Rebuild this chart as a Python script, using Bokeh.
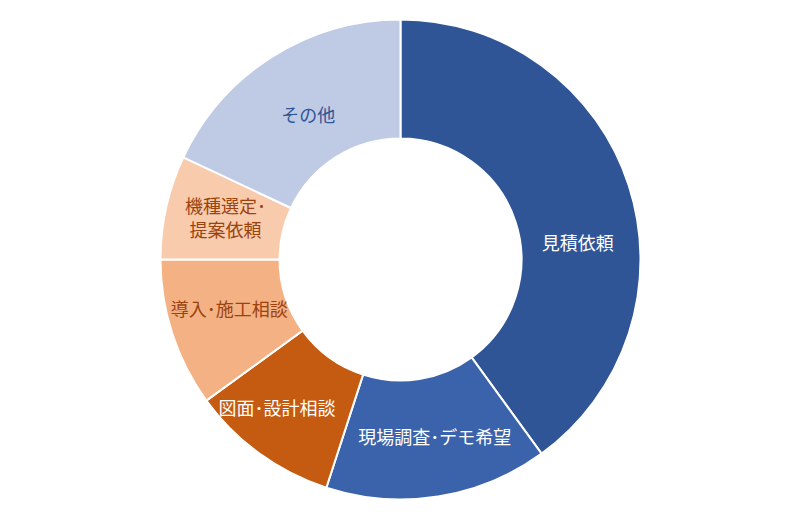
import numpy as np

from bokeh.core.properties import value
from bokeh.embed import file_html
from bokeh.models import ColumnDataSource
from bokeh.plotting import figure
from bokeh.resources import INLINE

# share of inquiries, clockwise from 12 o'clock
labels = ["見積依頼", "現場調査･デモ希望", "図面･設計相談", "導入･施工相談", "機種選定･\n提案依頼", "その他"]
shares = [40, 15, 10, 10, 7, 18]

colors = ["#2F5597", "#3A63AC", "#C55A11", "#F4B183", "#F8CBAD", "#BFCAE5"]
text_colors = ["white", "white", "white", "#9A4310", "#9A4310", "#2F5597"]

W, H = 784, 502
cx, cy = 400, 243
r_out, r_in = 240, 121

frac = np.array(shares) / sum(shares)
ends = np.cumsum(frac) * 2 * np.pi
starts = ends - frac * 2 * np.pi
# bokeh angles run counter-clockwise from 3 o'clock
start_angle = np.pi / 2 - starts
end_angle = np.pi / 2 - ends

mid = (starts + ends) / 2
# small nudges so the labels sit where the original placed them
mid = mid + np.radians([12.5, -2, 4, 2.3, 1, 0])
lab_r = np.array([178, 180, 192, 178, 180, 172])
lx = cx + lab_r * np.sin(mid)
ly = cy + lab_r * np.cos(mid)

src = dict(start=start_angle, end=end_angle, color=colors)
lab = ColumnDataSource(dict(x=lx, y=ly, text=labels, tc=text_colors))

p = figure(width=W, height=H, x_range=(0, W), y_range=(0, H),
           output_backend="svg", toolbar_location=None, min_border=0)
p.axis.visible = False
p.grid.visible = False
p.outline_line_color = None

p.annular_wedge(x=cx, y=cy, inner_radius=r_in, outer_radius=r_out,
                start_angle="start", end_angle="end", direction="clock",
                fill_color="color", line_color="white", line_width=2,
                source=ColumnDataSource(src))

p.text(x="x", y="y", text="text", source=lab, text_color="tc",
       text_align="center", text_baseline="middle",
       text_font=value("Noto Sans CJK JP"), text_font_size="18px",
       text_line_height=0.92)

open("out.html", "w").write(file_html(p, INLINE))
